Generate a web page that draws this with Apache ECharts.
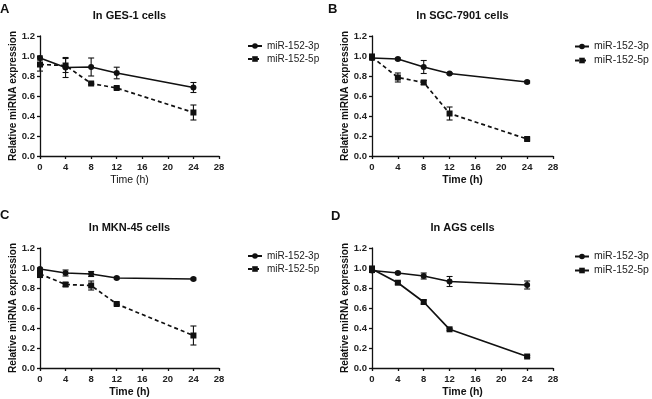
<!DOCTYPE html>
<html><head><meta charset="utf-8">
<script src="https://cdn.jsdelivr.net/npm/echarts@6/dist/echarts.min.js"></script>
<style>html,body{margin:0;padding:0;background:#fff}#c{width:652px;height:399px}</style>
</head><body><div id="c"></div>
<script>
// ---- data ----
const times = [0, 4, 8, 12, 24];
const panelLetters = ['A', 'B', 'C', 'D'];
const panelTitles = ['In GES-1 cells', 'In SGC-7901 cells', 'In MKN-45 cells', 'In AGS cells'];
const seriesNames = ['miR-152-3p', 'miR-152-5p'];
const xAxisName = 'Time (h)';
const yAxisName = 'Relative miRNA expression';

const ges3p = [0.98, 0.885, 0.89, 0.83, 0.685];
const ges3pErr = [0.02, 0.10, 0.09, 0.058, 0.05];
const ges5p = [0.915, 0.905, 0.725, 0.68, 0.435];
const ges5pErr = [0.066, 0.07, 0.012, 0.01, 0.075];

const sgc3p = [0.98, 0.97, 0.89, 0.825, 0.74];
const sgc3pErr = [0.015, 0.01, 0.065, 0.01, 0.01];
const sgc5p = [0.99, 0.785, 0.735, 0.425, 0.17];
const sgc5pErr = [0.03, 0.045, 0.02, 0.065, 0.01];

const mkn3p = [0.99, 0.95, 0.94, 0.90, 0.89];
const mkn3pErr = [0.01, 0.03, 0.025, 0.01, 0.01];
const mkn5p = [0.94, 0.835, 0.825, 0.64, 0.325];
const mkn5pErr = [0.035, 0.02, 0.045, 0.01, 0.095];

const ags3p = [0.975, 0.95, 0.92, 0.865, 0.83];
const ags3pErr = [0.02, 0.01, 0.03, 0.05, 0.04];
const ags5p = [0.99, 0.853, 0.66, 0.387, 0.115];
const ags5pErr = [0.03, 0.015, 0.02, 0.01, 0.01];

const panelMeans = [[ges3p, ges5p], [sgc3p, sgc5p], [mkn3p, mkn5p], [ags3p, ags5p]];
const panelErrs = [[ges3pErr, ges5pErr], [sgc3pErr, sgc5pErr], [mkn3pErr, mkn5pErr], [ags3pErr, ags5pErr]];
const dashed5p = [true, true, true, false];

// ---- layout ----
const FONT = 'Liberation Sans, Arial, sans-serif';
const INK = '#111';
const grids = [
  {left: 40, top: 36, width: 179, height: 120},
  {left: 372, top: 36, width: 181, height: 120},
  {left: 40, top: 248, width: 179, height: 120},
  {left: 372, top: 248, width: 181, height: 120}
];
const letterPos = [[0, 3], [328, 3], [0, 209], [331, 210]];
const titleTop = [10, 10, 222, 222];
const legendPos = [[247, 41], [574, 41], [247, 251], [574, 251]];
const legendFont = [10, 10.5, 10, 10.5];

function errRender(params, api) {
  const x = api.value(0), lo = api.value(1), hi = api.value(2);
  const a = api.coord([x, lo]), b = api.coord([x, hi]);
  const hw = 3;
  const st = {stroke: INK, lineWidth: 1.1, fill: null};
  return {type: 'group', children: [
    {type: 'line', shape: {x1: a[0], y1: a[1], x2: b[0], y2: b[1]}, style: st},
    {type: 'line', shape: {x1: a[0] - hw, y1: a[1], x2: a[0] + hw, y2: a[1]}, style: st},
    {type: 'line', shape: {x1: b[0] - hw, y1: b[1], x2: b[0] + hw, y2: b[1]}, style: st}
  ]};
}

const option = {
  backgroundColor: '#fff',
  animation: false,
  title: [], grid: [], xAxis: [], yAxis: [], legend: [], series: []
};

grids.forEach((g, i) => {
  option.grid.push(Object.assign({containLabel: false, outerBoundsMode: 'none'}, g));
  option.title.push({text: panelLetters[i], left: letterPos[i][0], top: letterPos[i][1], padding: 0,
    textStyle: {fontFamily: FONT, fontSize: 13, fontWeight: 'bold', color: INK}});
  option.title.push({text: panelTitles[i], left: g.left + g.width / 2, top: titleTop[i], padding: 0, textAlign: 'center',
    textStyle: {fontFamily: FONT, fontSize: 11, fontWeight: 'bold', color: INK}});
  option.xAxis.push({
    gridIndex: i, type: 'value', min: 0, max: 28, interval: 4,
    name: xAxisName, nameLocation: 'middle', nameGap: 19,
    nameTextStyle: {fontFamily: FONT, fontSize: 10.5, fontWeight: i === 0 ? 'normal' : 'bold', color: INK},
    axisLine: {show: true, onZero: false, lineStyle: {color: INK, width: 1.3}},
    axisTick: {show: true, inside: false, length: 3, lineStyle: {color: INK, width: 1.3}},
    axisLabel: {fontFamily: FONT, fontSize: 9.5, fontWeight: 'bold', color: '#222', margin: 6},
    splitLine: {show: false}
  });
  option.yAxis.push({
    gridIndex: i, type: 'value', min: 0, max: 1.2, interval: 0.2,
    name: yAxisName, nameLocation: 'middle', nameGap: 21,
    nameTextStyle: {fontFamily: FONT, fontSize: 10, fontWeight: 'bold', color: INK},
    axisLine: {show: true, lineStyle: {color: INK, width: 1.3}},
    axisTick: {show: true, inside: false, length: 3, lineStyle: {color: INK, width: 1.3}},
    axisLabel: {fontFamily: FONT, fontSize: 9.5, fontWeight: 'bold', color: '#222', margin: 5,
      formatter: v => v.toFixed(1)},
    splitLine: {show: false}
  });
  const names = seriesNames.map(n => panelLetters[i] + '|' + n);
  option.legend.push({
    data: names, orient: 'vertical', left: legendPos[i][0], top: legendPos[i][1], padding: 0,
    itemWidth: 14, itemHeight: 7, itemGap: 3, selectedMode: false,
    formatter: n => n.split('|')[1],
    textStyle: {fontFamily: FONT, fontSize: legendFont[i], color: '#222'}
  });
  seriesNames.forEach((sn, k) => {
    const mean = panelMeans[i][k], err = panelErrs[i][k];
    option.series.push({
      type: 'custom', name: 'err' + i + k, xAxisIndex: i, yAxisIndex: i,
      renderItem: errRender, encode: {x: 0, y: [1, 2]}, z: 2, silent: true,
      data: times.map((t, j) => [t, mean[j] - err[j], mean[j] + err[j]])
    });
    const isDash = k === 1 && dashed5p[i];
    option.series.push({
      type: 'line', name: names[k], xAxisIndex: i, yAxisIndex: i, z: 3,
      symbol: k === 0 ? 'circle' : 'rect', symbolSize: 6,
      lineStyle: {color: INK, width: 1.7, type: isDash ? [4, 3] : 'solid'},
      itemStyle: {color: INK},
      data: times.map((t, j) => [t, mean[j]])
    });
  });
});

const chart = echarts.init(document.getElementById('c'), null, {renderer: 'canvas'});
chart.setOption(option);
</script>
</body></html>
